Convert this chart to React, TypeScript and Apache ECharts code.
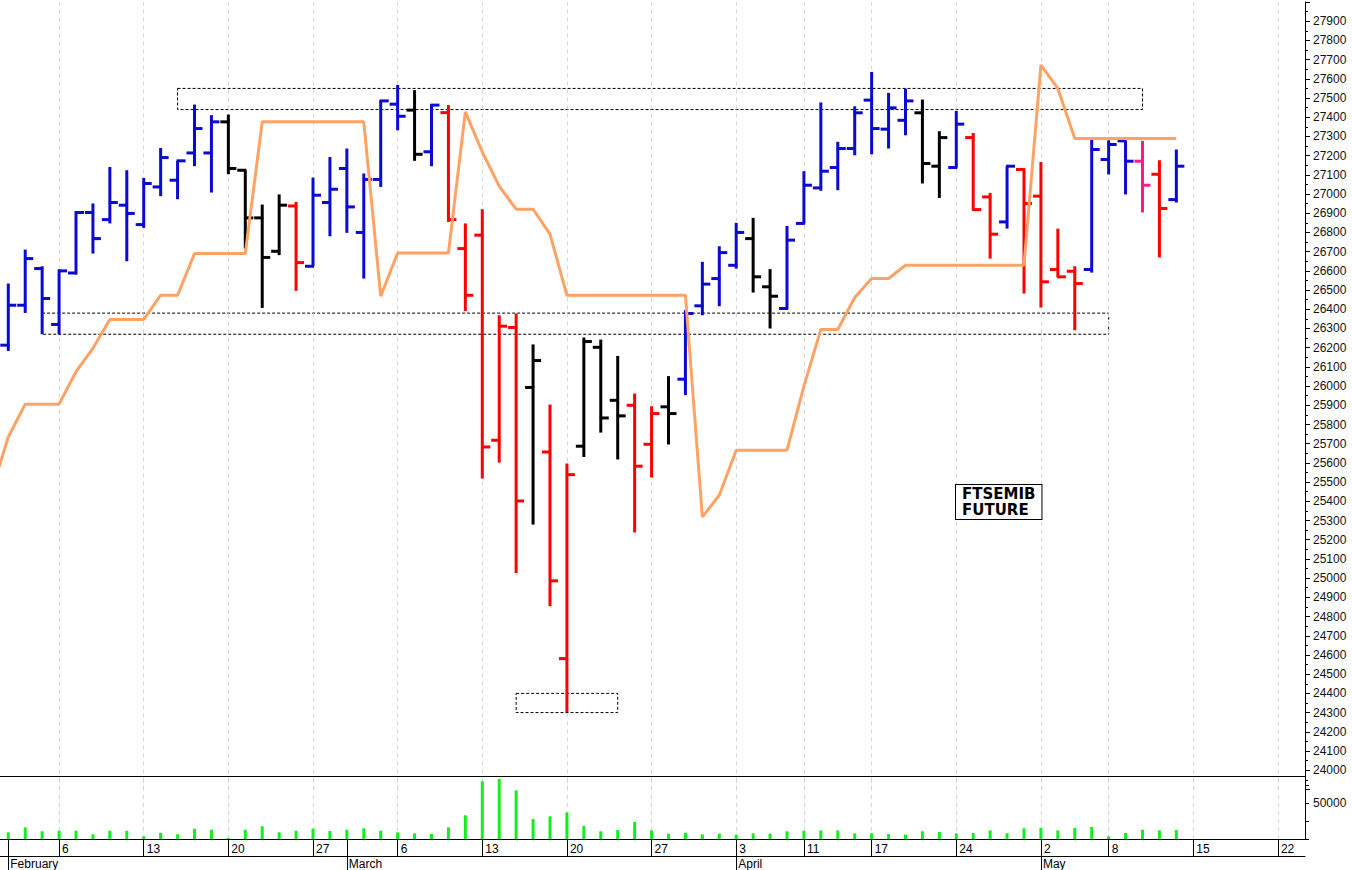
import React, { useEffect, useRef } from "react";
import * as echarts from "echarts";

// ---- data ----
const dates = [
  "2023-02-01", "2023-02-02", "2023-02-03", "2023-02-06", "2023-02-07", "2023-02-08", "2023-02-09", "2023-02-10",
  "2023-02-13", "2023-02-14", "2023-02-15", "2023-02-16", "2023-02-17", "2023-02-20", "2023-02-21", "2023-02-22",
  "2023-02-23", "2023-02-24", "2023-02-27", "2023-02-28", "2023-03-01", "2023-03-02", "2023-03-03", "2023-03-06",
  "2023-03-07", "2023-03-08", "2023-03-09", "2023-03-10", "2023-03-13", "2023-03-14", "2023-03-15", "2023-03-16",
  "2023-03-17", "2023-03-20", "2023-03-21", "2023-03-22", "2023-03-23", "2023-03-24", "2023-03-27", "2023-03-28",
  "2023-03-29", "2023-03-30", "2023-03-31", "2023-04-03", "2023-04-04", "2023-04-05", "2023-04-06", "2023-04-11",
  "2023-04-12", "2023-04-13", "2023-04-14", "2023-04-17", "2023-04-18", "2023-04-19", "2023-04-20", "2023-04-21",
  "2023-04-24", "2023-04-25", "2023-04-26", "2023-04-27", "2023-04-28", "2023-05-02", "2023-05-03", "2023-05-04",
  "2023-05-05", "2023-05-08", "2023-05-09", "2023-05-10", "2023-05-11", "2023-05-12",
];

const opens = [
  26213, 26421, 26612, 26321, 26589, 26904, 26867, 26942, 26841, 27037, 27072, 27214, 27214, 27376, 27124, 26876,
  26702, 26938, 26624, 26956, 27133, 26800, 27076, 27468, 27437, 27220, 27424, 26716, 26786, 25718, 26305, 25993,
  25657, 24581, 25687, 26202, 25926, 25900, 25697, 25892, 26036, 26418, 26560, 26629, 26768, 26517, 26404, 26847,
  27032, 27138, 27237, 27489, 27338, 27384, 27423, 27145, 27138, 27294, 26985, 26855, 27128, 26989, 26607, 26598,
  26607, 27180, 27277, 27171, 27103, 26971,
];
const highs = [
  26534, 26711, 26624, 26607, 26911, 26951, 27141, 27124, 27084, 27240, 27173, 27466, 27411, 27414, 27124, 26945,
  26998, 26959, 27086, 27193, 27237, 27107, 27489, 27568, 27541, 27468, 27463, 26847, 26921, 26369, 26378, 26217,
  25904, 25597, 26253, 26242, 26157, 25961, 25895, 26052, 26395, 26647, 26728, 26850, 26876, 26609, 26834, 27119,
  27477, 27272, 27457, 27636, 27527, 27549, 27492, 27327, 27433, 27318, 27006, 27145, 27133, 27167, 26820, 26624,
  27284, 27280, 27277, 27277, 27176, 27232,
];
const lows = [
  26183, 26381, 26270, 26270, 26581, 26690, 26847, 26650, 26824, 26989, 26973, 27145, 27008, 27103, 26716, 26407,
  26682, 26496, 26624, 26780, 26798, 26560, 27037, 27332, 27173, 27145, 26855, 26391, 25519, 25602, 25027, 25279,
  24854, 24303, 25631, 25758, 25618, 25238, 25524, 25696, 25953, 26369, 26416, 26612, 26487, 26300, 26399, 26847,
  27017, 27020, 27202, 27207, 27237, 27306, 27055, 26980, 27138, 26916, 26664, 26820, 26482, 26409, 26569, 26291,
  26591, 27102, 26998, 26904, 26670, 26956,
];
const closes = [
  26421, 26664, 26456, 26600, 26904, 26768, 26956, 26899, 27055, 27190, 27173, 27341, 27376, 27133, 26876, 26670,
  26942, 26643, 26994, 27025, 26933, 27076, 27485, 27405, 27207, 27463, 26867, 26473, 25683, 26312, 25402, 26133,
  24986, 25539, 26232, 25834, 25845, 25583, 25857, 25857, 26378, 26531, 26695, 26800, 26569, 26468, 26760, 27046,
  27119, 27237, 27423, 27341, 27449, 27485, 27159, 27294, 27364, 26919, 26791, 27145, 26951, 26543, 26569, 26534,
  27232, 27258, 27171, 27046, 26925, 27145,
];
// B = blue, K = black, R = red, P = pink
const barColors = [
  "B", "B", "B", "B", "B", "B", "B", "B", "B", "B", "B", "B", "B", "K", "K", "K",
  "K", "R", "B", "B", "B", "B", "B", "B", "K", "B", "R", "R", "R", "R", "R", "K",
  "R", "R", "K", "K", "K", "R", "R", "K", "B", "B", "B", "B", "K", "K", "B", "B",
  "B", "B", "B", "B", "B", "B", "K", "K", "B", "R", "R", "B", "R", "R", "R", "R",
  "B", "B", "B", "P", "R", "B",
];
const stopBefore = 25450; // value on the previous session, mostly off the left edge
const stopLine = [
  25735, 25906, 25906, 25906, 26075, 26197, 26347, 26347, 26347, 26473, 26473, 26690, 26690, 26690, 26690, 27376,
  27376, 27376, 27376, 27376, 27376, 27376, 26468, 26693, 26693, 26693, 26693, 27428, 27219, 27041, 26921, 26921,
  26791, 26473, 26473, 26473, 26473, 26473, 26473, 26473, 26473, 25319, 25432, 25666, 25666, 25666, 25666, 26000,
  26295, 26295, 26461, 26560, 26560, 26629, 26629, 26629, 26629, 26629, 26629, 26629, 26629, 27671, 27550, 27289,
  27289, 27289, 27289, 27289, 27289, 27289,
];
const volumes = [
  9300, 16200, 10700, 11500, 11500, 6500, 11500, 11500, 3700, 8800, 6500, 14300, 12900, 1400, 12900, 17600,
  9300, 11500, 14300, 11100, 12900, 14900, 11500, 9300, 7900, 6900, 16200, 32900, 80100, 83300, 67600, 27800,
  31500, 37000, 18100, 10700, 12500, 23600, 12000, 7400, 8800, 6500, 7400, 6000, 7900, 7400, 10700, 11500,
  12000, 12000, 7900, 7900, 6900, 6000, 10700, 9700, 7900, 8300, 12000, 7900, 14900, 15300, 12000, 15300,
  16700, 3700, 8300, 12900, 12000, 12500,
];
// trading-day index of each week start and its day label
const weekTickIdx = [3, 8, 13, 18, 23, 28, 33, 38, 43, 47, 51, 56, 61, 65, 70, 75];
const weekTickLabels = ["6", "13", "20", "27", "6", "13", "20", "27", "3", "11", "17", "24", "2", "8", "15", "22"];
const monthTickIdx = [0, 20, 43, 61];
const monthTickLabels = ["February", "March", "April", "May"];
const priceLabelMin = 24000;
const priceLabelMax = 27900;
const volumeTickValues = [0, 25000, 50000, 75000];
const volumeLabelValues = [50000];
// dashed zones: [start index, end index, upper price, lower price]
const zoneStart = [10, 2, 30];
const zoneEnd = [67, 65, 36];
const zoneTop = [27550, 26380, 24400];
const zoneBottom = [27440, 26270, 24300];
const noteLines = ["FTSEMIB", "FUTURE"];

const COLORS: Record<string, string> = {
  B: "#0a0ad2",
  K: "#000000",
  R: "#ff0000",
  P: "#ff1a8c",
};

const X_MIN = -0.49;
const X_MAX = 76.6;

export default function App() {
  const ref = useRef<HTMLDivElement>(null);

  useEffect(() => {
    document.body.style.margin = "0";
    const chart = echarts.init(ref.current!, undefined, { renderer: "svg" });

    const ohlcData = dates.map((_, i) => [i, opens[i], highs[i], lows[i], closes[i]]);
    const stopData = [[-1, stopBefore], ...stopLine.map((v, i) => [i, v])];
    const volData = volumes.map((v, i) => [i, v]);

    const gridLineStyle = { color: "#d6d6de", type: [4, 4] as any, width: 1 };
    const weekMarkLine = {
      silent: true,
      z: 1,
      symbol: ["none", "none"],
      label: { show: false },
      lineStyle: gridLineStyle,
      data: weekTickIdx.map((x) => ({ xAxis: x })),
    };

    const axisFont = { fontFamily: "Arial, 'Liberation Sans', sans-serif", fontSize: 12, color: "#111" };
    const xBase = {
      type: "value",
      min: X_MIN,
      max: X_MAX,
      splitLine: { show: false },
    };

    const option: any = {
      animation: false,
      backgroundColor: "#ffffff",
      grid: [
        // price panel: 28000 at y=2, 23900 at y~789 (the panel below hides the overlap)
        { left: 0, right: 47, top: 2, height: 787.4 },
        { left: 0, right: 47, top: 776, height: 63 },
      ],
      xAxis: [
        {
          ...xBase,
          gridIndex: 0,
          position: "bottom",
          axisLine: { show: false, onZero: false },
          axisTick: { show: false },
          axisLabel: { show: false },
        },
        {
          ...xBase,
          gridIndex: 1,
          position: "bottom",
          axisLine: { show: true, onZero: false, lineStyle: { color: "#000", width: 1 } },
          axisTick: {
            show: true,
            customValues: [0, 20, ...weekTickIdx],
            length: 17,
            lineStyle: { color: "#000", width: 1 },
          },
          axisLabel: {
            show: true,
            customValues: weekTickIdx,
            formatter: (v: number) => {
              const k = weekTickIdx.indexOf(Math.round(v));
              return k >= 0 ? weekTickLabels[k] : "";
            },
            align: "left",
            padding: [0, 0, 0, 3],
            margin: 4,
            ...axisFont,
            color: "#000",
          },
        },
        {
          ...xBase,
          gridIndex: 1,
          position: "bottom",
          offset: 17,
          axisLine: { show: true, onZero: false, lineStyle: { color: "#000", width: 1 } },
          axisTick: {
            show: true,
            customValues: monthTickIdx,
            length: 14,
            lineStyle: { color: "#000", width: 1 },
          },
          axisLabel: {
            show: true,
            customValues: monthTickIdx,
            formatter: (v: number) => {
              const k = monthTickIdx.indexOf(Math.round(v));
              return k >= 0 ? monthTickLabels[k] : "";
            },
            align: "left",
            padding: [0, 0, 0, 2],
            margin: 2,
            ...axisFont,
            color: "#000",
          },
        },
        {
          ...xBase,
          gridIndex: 1,
          position: "top",
          axisLine: { show: true, onZero: false, lineStyle: { color: "#000", width: 1 } },
          axisTick: { show: false },
          axisLabel: { show: false },
        },
      ],
      yAxis: [
        {
          gridIndex: 0,
          type: "value",
          position: "right",
          min: 23900,
          max: 28000,
          interval: 100,
          axisLine: { show: true, onZero: false, lineStyle: { color: "#000", width: 1 } },
          axisTick: { show: true, length: 5, lineStyle: { color: "#000" } },
          minorTick: { show: true, splitNumber: 2, length: 3, lineStyle: { color: "#000" } },
          axisLabel: {
            show: true,
            margin: 8,
            showMinLabel: true,
            showMaxLabel: true,
            formatter: (v: number) => (v >= priceLabelMin && v <= priceLabelMax ? String(v) : ""),
            ...axisFont,
          },
          splitLine: { show: false },
          minorSplitLine: { show: false },
        },
        {
          gridIndex: 1,
          type: "value",
          position: "right",
          min: 0,
          max: 87500,
          axisLine: { show: true, onZero: false, lineStyle: { color: "#000", width: 1 } },
          axisTick: { show: true, customValues: volumeTickValues, length: 4, lineStyle: { color: "#000" } },
          axisLabel: {
            show: true,
            customValues: volumeLabelValues,
            formatter: (v: number) => String(v),
            margin: 8,
            ...axisFont,
          },
          splitLine: { show: false },
        },
      ],
      series: [
        {
          name: "OHLC",
          type: "custom",
          xAxisIndex: 0,
          yAxisIndex: 0,
          z: 2,
          encode: { x: 0, y: [1, 2, 3, 4] },
          data: ohlcData,
          renderItem: (params: any, api: any) => {
            const i = api.value(0);
            const o = api.coord([i, api.value(1)]);
            const h = api.coord([i, api.value(2)]);
            const l = api.coord([i, api.value(3)]);
            const c = api.coord([i, api.value(4)]);
            const color = COLORS[barColors[params.dataIndex]];
            const tick = 8;
            const st = { stroke: color, lineWidth: 3, fill: null };
            return {
              type: "group",
              children: [
                { type: "line", shape: { x1: h[0], y1: h[1], x2: l[0], y2: l[1] }, style: st },
                { type: "line", shape: { x1: o[0] - tick, y1: o[1], x2: o[0] + 1, y2: o[1] }, style: st },
                { type: "line", shape: { x1: c[0] - 1, y1: c[1], x2: c[0] + tick, y2: c[1] }, style: st },
              ],
            };
          },
        },
        {
          name: "Stop",
          type: "line",
          xAxisIndex: 0,
          yAxisIndex: 0,
          z: 3,
          data: stopData,
          showSymbol: false,
          symbol: "none",
          clip: true,
          lineStyle: { color: "#ffa263", width: 3 },
          markLine: weekMarkLine,
          markArea: {
            silent: true,
            z: 1,
            label: { show: false },
            itemStyle: {
              color: "rgba(0,0,0,0)",
              borderColor: "#000",
              borderWidth: 1,
              borderType: [3, 2],
            },
            data: zoneStart.map((s, k) => [
              { coord: [s, zoneTop[k]] },
              { coord: [zoneEnd[k], zoneBottom[k]] },
            ]),
          },
        },
        {
          name: "Volume",
          type: "bar",
          xAxisIndex: 1,
          yAxisIndex: 1,
          barWidth: 3,
          z: 3,
          itemStyle: { color: "#10f020" },
          data: volData,
          markLine: weekMarkLine,
        },
      ],
      graphic: [
        {
          type: "text",
          left: 955,
          top: 484,
          z: 10,
          style: {
            text: noteLines.join("\n"),
            font: "bold 15px 'DejaVu Sans', Arial, sans-serif",
            fill: "#000",
            align: "center",
            lineHeight: 16,
            backgroundColor: "#fff",
            borderColor: "#000",
            borderWidth: 1,
            padding: [1, 6, 1, 6],
          },
        },
      ],
    };

    chart.setOption(option);
    return () => chart.dispose();
  }, []);

  return <div ref={ref} style={{ width: 1352, height: 870 }} />;
}
